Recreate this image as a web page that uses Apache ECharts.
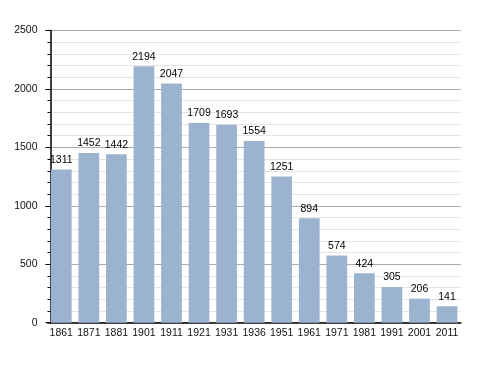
<!DOCTYPE html>
<html><head><meta charset="utf-8">
<script src="https://cdn.jsdelivr.net/npm/echarts@6/dist/echarts.min.js"></script>
<style>html,body{margin:0;padding:0;background:#fff}#c{width:488px;height:373px}</style>
</head><body><div id="c"></div>
<script>
const years = ['1861','1871','1881','1901','1911','1921','1931','1936','1951','1961','1971','1981','1991','2001','2011'];
const population = [1311,1452,1442,2194,2047,1709,1693,1554,1251,894,574,424,305,206,141];
const yTicks = [0,500,1000,1500,2000,2500];

const FONT = '"Liberation Sans", Arial, sans-serif';
const chart = echarts.init(document.getElementById('c'), null, {renderer:'canvas'});
chart.setOption({
  animation:false,
  grid:{left:47.5,right:27.2,top:30.5,bottom:50.3,containLabel:false},
  xAxis:{type:'category',data:years,
    axisLine:{lineStyle:{color:'#000',width:1.5}},
    axisTick:{show:false},
    axisLabel:{color:'#111',fontSize:10.5,fontFamily:FONT,margin:5,interval:0}
  },
  yAxis:{type:'value',min:yTicks[0],max:yTicks[yTicks.length-1],interval:500,offset:-3,
    axisLine:{show:true,lineStyle:{color:'#000',width:1.5}},
    axisTick:{show:true,length:5,lineStyle:{color:'#000'}},
    minorTick:{show:true,splitNumber:5,length:3,lineStyle:{color:'#000'}},
    splitLine:{lineStyle:{color:'#aaa',width:1}},
    minorSplitLine:{show:true,lineStyle:{color:'#e4e4e4',width:1}},
    axisLabel:{color:'#111',fontSize:10.5,fontFamily:FONT,margin:13,formatter:v=>String(v)}
  },
  series:[{type:'bar',data:population,barWidth:20.7,
    itemStyle:{color:'#9bb3cf'},
    label:{show:true,position:'top',color:'#000',fontSize:10.5,fontFamily:FONT,distance:4}
  }]
});
</script></body></html>
